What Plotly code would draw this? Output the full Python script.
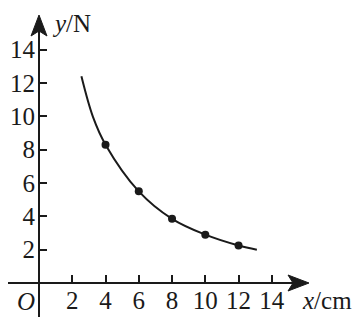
import plotly.graph_objects as go

# data
point_x = [4, 6, 8, 10, 12]
point_y = [8.3, 5.5, 3.85, 2.9, 2.25]
curve_x = [2.55, 3.25, 4, 6, 8, 10, 12, 13.1]
curve_y = [12.4, 9.95, 8.3, 5.5, 3.85, 2.9, 2.25, 2.0]
tick_vals = [2, 4, 6, 8, 10, 12, 14]
tick_text = [str(v) for v in tick_vals]

W, H = 357, 320
ML, MB = 39, 37
PW, PH = W - ML, H - MB
UX, UY = 16.63, 16.67

def px(x):
    return (x - ML) / PW

def py(y):
    return (PH - y) / PH

FONT = "Liberation Serif"
INK = "#1a1a1a"

fig = go.Figure()
fig.add_trace(go.Scatter(x=curve_x, y=curve_y, mode="lines",
                         line=dict(color=INK, width=2, shape="spline", smoothing=1.0),
                         hoverinfo="skip", showlegend=False))
fig.add_trace(go.Scatter(x=point_x, y=point_y, mode="markers",
                         marker=dict(color=INK, size=8),
                         showlegend=False))

shapes = [
    # x axis line
    dict(type="line", xref="paper", yref="paper", x0=px(8), x1=px(294), y0=0, y1=0,
         line=dict(color=INK, width=2)),
    # y axis line
    dict(type="line", xref="paper", yref="paper", x0=0, x1=0, y0=py(317), y1=py(30),
         line=dict(color=INK, width=2)),
    # y arrow head
    dict(type="path", xref="paper", yref="paper",
         path=f"M {px(39)},{py(15)} L {px(31)},{py(36)} L {px(39)},{py(31)} L {px(47)},{py(36)} Z",
         fillcolor=INK, line=dict(color=INK, width=1)),
    # x arrow head
    dict(type="path", xref="paper", yref="paper",
         path=f"M {px(309)},{py(283)} L {px(288)},{py(275)} L {px(293)},{py(283)} L {px(288)},{py(291)} Z",
         fillcolor=INK, line=dict(color=INK, width=1)),
]

annotations = [
    dict(text="<i>O</i>", xref="paper", yref="paper", x=px(25.5), y=py(301),
         xanchor="center", yanchor="middle",
         showarrow=False, font=dict(family=FONT, size=25, color=INK)),
    dict(text="<i>y</i>/N", xref="paper", yref="paper", x=px(71), y=py(23),
         xanchor="center", yanchor="middle",
         showarrow=False, font=dict(family=FONT, size=25, color=INK)),
    dict(text="<i>x</i>/cm", xref="paper", yref="paper", x=px(327), y=py(300),
         xanchor="center", yanchor="middle",
         showarrow=False, font=dict(family=FONT, size=25, color=INK)),
]

fig.update_layout(
    width=W, height=H,
    margin=dict(l=ML, r=0, t=0, b=MB, pad=0),
    plot_bgcolor="white", paper_bgcolor="white",
    shapes=shapes, annotations=annotations,
    xaxis=dict(range=[0, PW / UX], showgrid=False, zeroline=False, showline=False,
               tickmode="array", tickvals=tick_vals, ticktext=tick_text,
               ticks="inside", ticklen=8, tickwidth=2, tickcolor=INK,
               tickfont=dict(family=FONT, size=25, color=INK), fixedrange=True),
    yaxis=dict(range=[0, PH / UY], showgrid=False, zeroline=False, showline=False,
               tickmode="array", tickvals=tick_vals, ticktext=tick_text,
               ticks="inside", ticklen=8, tickwidth=2, tickcolor=INK,
               ticklabelstandoff=3,
               tickfont=dict(family=FONT, size=25, color=INK), fixedrange=True),
)

fig.write_html("out.html", config={"displayModeBar": False})
